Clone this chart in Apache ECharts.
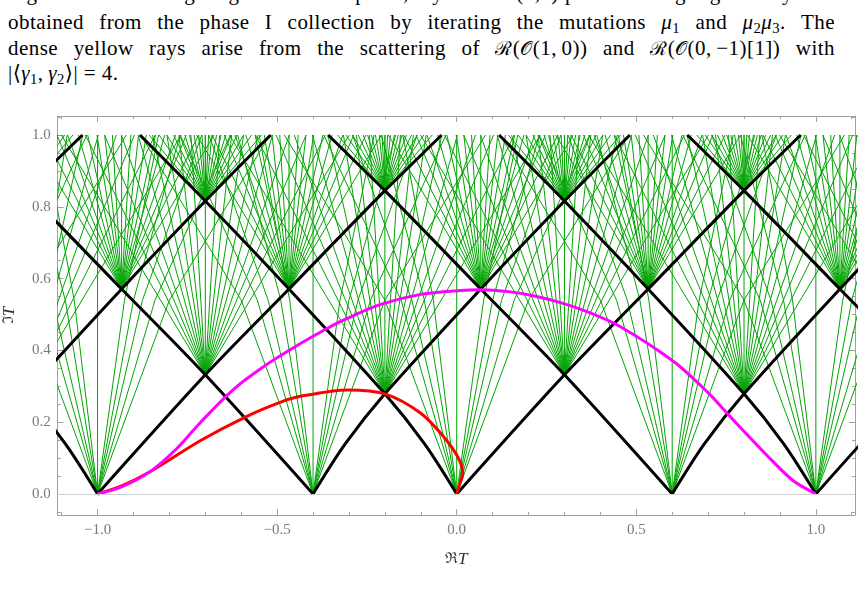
<!DOCTYPE html>
<html lang="en">
<head>
<meta charset="UTF-8">
<title>Scattering diagram in the T-plane</title>
<script src="https://cdn.jsdelivr.net/npm/echarts@6/dist/echarts.min.js"></script>
<style>
html, body { margin: 0; padding: 0; background: #fff; overflow: hidden; }
#chart { position: absolute; left: 0; top: 0; width: 862px; height: 597px; }
.cap { position: absolute; left: 8px; width: 827px; font-family: 'Liberation Serif', 'DejaVu Serif', serif; font-size: 21px; letter-spacing: 0.45px; line-height: 24px; color: #000; white-space: nowrap; text-align: justify; text-align-last: justify; }
.cap.last { text-align-last: left; }
.cap i { font-style: italic; }
.cap sub { font-size: 0.7em; vertical-align: -0.28em; line-height: 0; }
.scr { font-family: 'DejaVu Serif', serif; font-size: 0.92em; }
</style>
</head>
<body>
<div class="cap" style="top:-19px">Figure 11: Scattering diagram in the T-plane, rays of the (1,0) point. The light green rays are</div>
<div class="cap" style="top:10px">obtained from the phase I collection by iterating the mutations <i>μ</i><sub>1</sub> and <i>μ</i><sub>2</sub><i>μ</i><sub>3</sub>. The</div>
<div class="cap" style="top:36px">dense yellow rays arise from the scattering of <span class="scr">ℛ</span>(<span class="scr">𝒪</span>(1,&#8201;0)) and <span class="scr">ℛ</span>(<span class="scr">𝒪</span>(0,&#8201;−1)[1]) with</div>
<div class="cap last" style="top:61px">|⟨<i>γ</i><sub>1</sub>,&#8201;<i>γ</i><sub>2</sub>⟩| = 4.</div>
<div id="chart"></div>
<script>
// axis ranges
const X_MIN = -1.111, X_MAX = 1.109;
const Y_MIN = -0.0585, Y_MAX = 1.0529;

// base points on the real axis
const BASE_INT = [-2, -1, 0, 1, 2];
const BASE_SIX = [-1.4, -0.4, 0.6, 1.6];

// crossings of the black walls
const ROW1A_X = [-1.7, -0.7, 0.3, 1.3];     const ROW1A_Y = 0.332;
const ROW1B_X = [-1.2, -0.2, 0.8, 1.8];     const ROW1B_Y = 0.279;
const ROW2A_X = [-1.467, -0.467, 0.533, 1.533]; const ROW2A_Y = 0.571;
const ROW2B_X = [-0.933, 0.067, 1.067];     const ROW2B_Y = 0.571;
const ROW3A_X = [-1.7, -0.7, 0.3, 1.3];     const ROW3A_Y = 0.816;
const ROW3B_X = [-1.2, -0.2, 0.8, 1.8];     const ROW3B_Y = 0.845;

// black walls, offsets from their base point
const RAY_INT_RIGHT = [[0, 0], [0.3, 0.332], [0.533, 0.571], [0.8, 0.845], [0.958, 1.0]];
const RAY_INT_LEFT = [[0, 0], [-0.09, 0.14], [-0.2, 0.279], [-0.467, 0.571], [-0.7, 0.816], [-0.882, 1.0]];
const RAY_SIX_LEFT = [[0, 0], [-0.3, 0.332], [-0.533, 0.571], [-0.8, 0.845], [-0.958, 1.0]];
const RAY_SIX_RIGHT = [[0, 0], [0.09, 0.14], [0.2, 0.279], [0.467, 0.571], [0.7, 0.816], [0.882, 1.0]];

// green fans: x offset at y = 0.54 and at the top (y = 1) for rays from base points
const BASE_FAN_MID = [-0.2, -0.155, -0.125, -0.09, -0.065, 0, 0.075, 0.1, 0.125, 0.16, 0.2];
const BASE_FAN_TOP = [-0.48, -0.37, -0.29, -0.21, -0.15, 0, 0.17, 0.23, 0.29, 0.37, 0.48];
// green fans at crossings, dx/dy
const CROSS_FAN = [-0.6, -0.5, -0.42, -0.35, -0.28, -0.22, -0.16, -0.11, -0.06, 0, 0.06, 0.11, 0.16, 0.22, 0.28, 0.35, 0.42, 0.5, 0.6];
const TOP_FAN = [-0.85, -0.7, -0.58, -0.48, -0.39, -0.31, -0.24, -0.17, -0.1, -0.05, 0, 0.05, 0.1, 0.17, 0.24, 0.31, 0.39, 0.48, 0.58, 0.7, 0.85];

// curves
const MAGENTA = [[-1, 0], [-0.93, 0.021], [-0.853, 0.063], [-0.78, 0.126], [-0.713, 0.2], [-0.622, 0.291], [-0.527, 0.362],
  [-0.435, 0.419], [-0.361, 0.461], [-0.314, 0.485], [-0.212, 0.528], [-0.1, 0.556], [0.011, 0.567], [0.065, 0.569],
  [0.15, 0.563], [0.22, 0.551], [0.289, 0.533], [0.37, 0.505], [0.456, 0.466], [0.604, 0.369], [0.697, 0.285],
  [0.753, 0.225], [0.808, 0.166], [0.883, 0.088], [0.938, 0.036], [1, 0]];
const RED = [[-1, 0], [-0.93, 0.024], [-0.853, 0.0625], [-0.713, 0.149], [-0.583, 0.217], [-0.49, 0.256], [-0.435, 0.272],
  [-0.305, 0.29], [-0.2, 0.279], [-0.1, 0.225], [-0.036, 0.159], [0.003, 0.103], [0.017, 0.058], [0.006, 0.02], [0, 0]];

const GREEN = '#00a400';
const SERIF = 'Liberation Serif';

const greenLines = [];
[...BASE_INT, ...BASE_SIX].forEach(function (b) {
  BASE_FAN_MID.forEach(function (m, i) {
    greenLines.push({ coords: [[b, 0], [b + m, 0.54], [b + BASE_FAN_TOP[i], 1.0]] });
  });
});
function addFan(xs, y0, fan) {
  xs.forEach(function (x0) {
    fan.forEach(function (s) {
      greenLines.push({ coords: [[x0, y0], [x0 + s * (1.0 - y0), 1.0]] });
    });
  });
}
addFan(ROW1A_X, ROW1A_Y, CROSS_FAN);
addFan(ROW1B_X, ROW1B_Y, CROSS_FAN);
addFan(ROW2A_X, ROW2A_Y, CROSS_FAN);
addFan(ROW2B_X, ROW2B_Y, CROSS_FAN);
addFan(ROW3A_X, ROW3A_Y, TOP_FAN);
addFan(ROW3B_X, ROW3B_Y, TOP_FAN);

const series = [{
  type: 'line', data: [], symbol: 'none', z: 0,
  markLine: { silent: true, symbol: 'none', label: { show: false }, animation: false,
    lineStyle: { color: '#cfcfcf', type: 'solid', width: 1 }, data: [{ yAxis: 0 }] }
}, {
  type: 'lines', coordinateSystem: 'cartesian2d', polyline: true, clip: true, silent: true, z: 1,
  lineStyle: { color: GREEN, width: 1, opacity: 1 }, data: greenLines
}];
function addWall(b, ray) {
  series.push({
    type: 'line', data: ray.map(function (p) { return [b + p[0], p[1]]; }), smooth: 0.3, symbol: 'none',
    clip: true, z: 2, lineStyle: { color: '#000', width: 3 }
  });
}
BASE_INT.forEach(function (b) { addWall(b, RAY_INT_LEFT); addWall(b, RAY_INT_RIGHT); });
BASE_SIX.forEach(function (b) { addWall(b, RAY_SIX_LEFT); addWall(b, RAY_SIX_RIGHT); });
series.push({ type: 'line', data: RED, smooth: 0.3, symbol: 'none', z: 3, lineStyle: { color: '#ff0000', width: 3 } });
series.push({ type: 'line', data: MAGENTA, smooth: 0.3, symbol: 'none', z: 4, lineStyle: { color: '#ff00ff', width: 3 } });

function fmt(v) { return (v < 0 ? '\u2212' : '') + Math.abs(v).toFixed(1); }
const frameLine = { onZero: false, lineStyle: { color: '#a0a0a0', width: 1 } };
const majorTick = { inside: true, length: 6, lineStyle: { color: '#a0a0a0' } };
const minorTick = { inside: true, length: 3, lineStyle: { color: '#a0a0a0' } };
const labelStyle = { color: '#7a7a7a', fontFamily: SERIF, fontSize: 15 };
const nameRich = {
  r: { fontFamily: 'DejaVu Serif', fontSize: 15, color: '#333' },
  t: { fontFamily: SERIF, fontStyle: 'italic', fontSize: 17, color: '#333' }
};

const chart = echarts.init(document.getElementById('chart'));
chart.setOption({
  animation: false,
  grid: [
    { left: 57.7, right: 7, top: 116, bottom: 82, containLabel: false, outerBoundsMode: 'none' },
    { left: 61.65, right: 10.3, top: 116, bottom: 82, containLabel: false, outerBoundsMode: 'none' },
    { left: 57.7, right: 7, top: 117.05, bottom: 85.05, containLabel: false, outerBoundsMode: 'none' }
  ],
  xAxis: [
    { gridIndex: 0, type: 'value', min: X_MIN, max: X_MAX, position: 'bottom', splitLine: { show: false },
      axisLine: frameLine, axisTick: majorTick,
      axisLabel: Object.assign({ showMinLabel: false, showMaxLabel: false, margin: 8, formatter: fmt }, labelStyle),
      name: '{r|ℜ}{t|T}', nameLocation: 'middle', nameGap: 36, nameTextStyle: { rich: nameRich } },
    { gridIndex: 0, type: 'value', min: X_MIN, max: X_MAX, position: 'top', splitLine: { show: false },
      axisLine: frameLine, axisTick: majorTick, axisLabel: { show: false } },
    { gridIndex: 1, type: 'value', min: -1.1, max: 1.1, interval: 0.1, position: 'bottom', splitLine: { show: false },
      axisLine: { show: false, onZero: false }, axisTick: minorTick, axisLabel: { show: false } },
    { gridIndex: 1, type: 'value', min: -1.1, max: 1.1, interval: 0.1, position: 'top', splitLine: { show: false },
      axisLine: { show: false, onZero: false }, axisTick: minorTick, axisLabel: { show: false } },
    { gridIndex: 2, type: 'value', min: 0, max: 1, show: false }
  ],
  yAxis: [
    { gridIndex: 0, type: 'value', min: Y_MIN, max: Y_MAX, position: 'left', splitLine: { show: false },
      axisLine: frameLine, axisTick: majorTick,
      axisLabel: Object.assign({ showMinLabel: false, showMaxLabel: false, margin: 7, formatter: fmt }, labelStyle),
      name: '{r|ℑ}{t|T}', nameLocation: 'middle', nameGap: 40, nameRotate: 90, nameTextStyle: { rich: nameRich } },
    { gridIndex: 0, type: 'value', min: Y_MIN, max: Y_MAX, position: 'right', splitLine: { show: false },
      axisLine: frameLine, axisTick: majorTick, axisLabel: { show: false } },
    { gridIndex: 1, type: 'value', min: 0, max: 1, show: false },
    { gridIndex: 2, type: 'value', min: -0.05, max: 1.05, interval: 0.05, position: 'left', splitLine: { show: false },
      axisLine: { show: false, onZero: false }, axisTick: minorTick, axisLabel: { show: false } },
    { gridIndex: 2, type: 'value', min: -0.05, max: 1.05, interval: 0.05, position: 'right', splitLine: { show: false },
      axisLine: { show: false, onZero: false }, axisTick: minorTick, axisLabel: { show: false } }
  ],
  series: series
});
</script>
</body>
</html>
